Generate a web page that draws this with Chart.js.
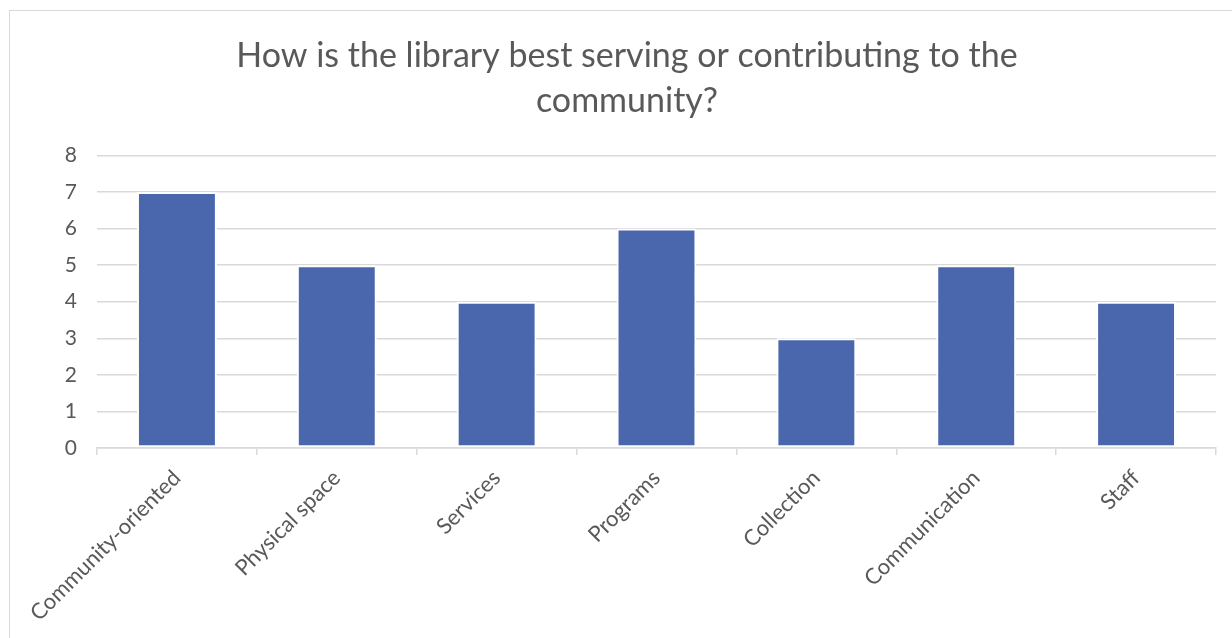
<!DOCTYPE html>
<html>
<head>
<meta charset="utf-8">
<script src="https://cdn.jsdelivr.net/npm/chart.js@4"></script>
<style>
  html, body { margin: 0; padding: 0; background: #fff; }
  #wrap { position: relative; width: 1232px; height: 638px; overflow: hidden; }
  #frame { position: absolute; left: 9px; top: 10px; width: 1300px; height: 700px;
           border-left: 1px solid #d9d9d9; border-top: 1px solid #d9d9d9; }
  canvas { position: absolute; left: 0; top: 0; }
</style>
</head>
<body>
<div id="wrap">
  <div id="frame"></div>
  <canvas id="grafico" width="1232" height="638"></canvas>
</div>
<script>
// dados do grafico
const categorias = ['Community-oriented', 'Physical space', 'Services', 'Programs', 'Collection', 'Communication', 'Staff'];
const valores = [7, 5, 4, 6, 3, 5, 4];
const titulo = ['How is the library best serving or contributing to the', 'community?'];

const cinzaTexto = '#595959';
const cinzaGrade = '#d9d9d9';
const fonte = 'Lato, "Open Sans", sans-serif';

const ctx = document.getElementById('grafico').getContext('2d');
new Chart(ctx, {
  type: 'bar',
  data: {
    labels: categorias,
    datasets: [{
      data: valores,
      backgroundColor: '#4a66ac',
      borderColor: '#ffffff',
      borderWidth: 2,
      borderSkipped: false,
      categoryPercentage: 1,
      barPercentage: 0.5
    }]
  },
  options: {
    responsive: false,
    animation: false,
    // padding esquerdo empurra o centro do titulo; eixo y compensa
    layout: { padding: { top: 0, right: 16, bottom: 0, left: 38 } },
    plugins: {
      legend: { display: false },
      tooltip: { enabled: false },
      title: {
        display: true,
        text: titulo,
        color: cinzaTexto,
        font: { family: fonte, size: 34, weight: 'normal', lineHeight: 1.33 },
        padding: { top: 33, bottom: 32 }
      }
    },
    scales: {
      x: {
        border: { color: cinzaGrade, width: 1.5 },
        grid: { drawOnChartArea: false, drawTicks: true, tickLength: 7, color: cinzaGrade, lineWidth: 1.5 },
        ticks: {
          color: cinzaTexto,
          font: { family: fonte, size: 22 },
          minRotation: 45,
          maxRotation: 45,
          padding: 10
        },
        afterFit: s => { s.height = 190; }
      },
      y: {
        min: 0,
        max: 8,
        border: { display: false },
        grid: { color: cinzaGrade, lineWidth: 1.5, drawTicks: false },
        ticks: {
          stepSize: 1,
          color: cinzaTexto,
          font: { family: fonte, size: 21 },
          padding: 20
        },
        afterFit: s => { s.width = 59; }
      }
    }
  }
});
</script>
</body>
</html>
